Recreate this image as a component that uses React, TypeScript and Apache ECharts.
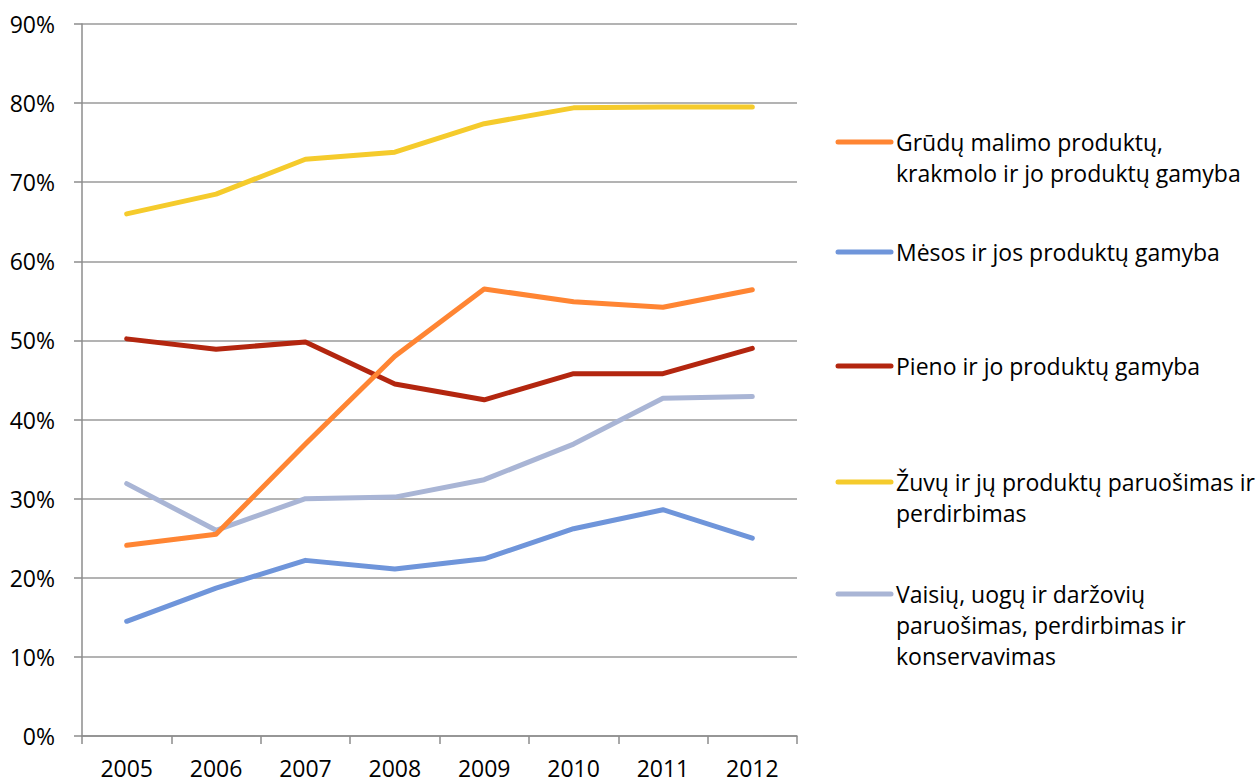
import React, { useEffect, useRef } from "react";
import * as echarts from "echarts";

const years = ["2005", "2006", "2007", "2008", "2009", "2010", "2011", "2012"];
const seriesNames = [
  "Grūdų malimo produktų,\nkrakmolo ir jo produktų gamyba",
  "Mėsos ir jos produktų gamyba",
  "Pieno ir jo produktų gamyba",
  "Žuvų ir jų produktų paruošimas ir\nperdirbimas",
  "Vaisių, uogų ir daržovių\nparuošimas, perdirbimas ir\nkonservavimas",
];
const grudai = [24.1, 25.5, 36.9, 48.0, 56.5, 54.9, 54.2, 56.4];
const mesa = [14.5, 18.7, 22.2, 21.1, 22.4, 26.2, 28.6, 25.0];
const pienas = [50.2, 48.9, 49.8, 44.5, 42.5, 45.8, 45.8, 49.0];
const zuvys = [66.0, 68.5, 72.9, 73.8, 77.4, 79.4, 79.5, 79.5];
const vaisiai = [31.9, 26.0, 30.0, 30.2, 32.4, 36.9, 42.7, 42.9];
const colors = ["#FF8533", "#6F95DA", "#B3260F", "#F5CB2C", "#A9B5D5"];
const legendTops = [142, 252, 366, 482, 594];

export default function App() {
  const ref = useRef<HTMLDivElement>(null);
  useEffect(() => {
    document.body.style.margin = "0";
    const chart = echarts.init(ref.current!, null, { renderer: "svg" });
    const values = [grudai, mesa, pienas, zuvys, vaisiai];
    const font = "'Open Sans', sans-serif";
    const graphic: any[] = [];
    seriesNames.forEach((n, i) => {
      graphic.push({
        type: "line",
        shape: { x1: 838, y1: legendTops[i], x2: 891, y2: legendTops[i] },
        style: { stroke: colors[i], lineWidth: 5, lineCap: "round" },
      });
      graphic.push({
        type: "text",
        x: 896,
        y: legendTops[i] - 16,
        style: {
          text: n,
          fill: "#000",
          font: `23px ${font}`,
          lineHeight: 31,
          textVerticalAlign: "top",
        },
      });
    });
    chart.setOption({
      animation: false,
      backgroundColor: "#fff",
      grid: { left: 82, right: 462, top: 24, bottom: 46 },
      xAxis: {
        type: "category",
        data: years,
        boundaryGap: true,
        axisLine: { lineStyle: { color: "#8c8c8c", width: 1.5 } },
        axisTick: { show: true, length: 8, lineStyle: { color: "#8c8c8c", width: 1.5 } },
        axisLabel: { color: "#000", fontSize: 23, fontFamily: font, margin: 20 },
        splitLine: { show: false },
      },
      yAxis: {
        type: "value",
        min: 0,
        max: 90,
        interval: 10,
        axisLine: { show: true, lineStyle: { color: "#8c8c8c", width: 1.5 } },
        axisTick: { show: true, length: 8, lineStyle: { color: "#8c8c8c", width: 1.5 } },
        axisLabel: { color: "#000", fontSize: 23, fontFamily: font, margin: 27, formatter: "{value}%" },
        splitLine: { show: true, lineStyle: { color: "#9a9a9a", width: 1.5 } },
      },
      series: seriesNames.map((n, i) => ({
        name: n,
        type: "line",
        data: values[i],
        symbol: "none",
        lineStyle: { color: colors[i], width: 5, cap: "round", join: "round" },
        itemStyle: { color: colors[i] },
        z: i === 0 ? 5 : 3,
      })),
      graphic,
    });
    return () => chart.dispose();
  }, []);
  return <div ref={ref} style={{ width: 1259, height: 782 }} />;
}
